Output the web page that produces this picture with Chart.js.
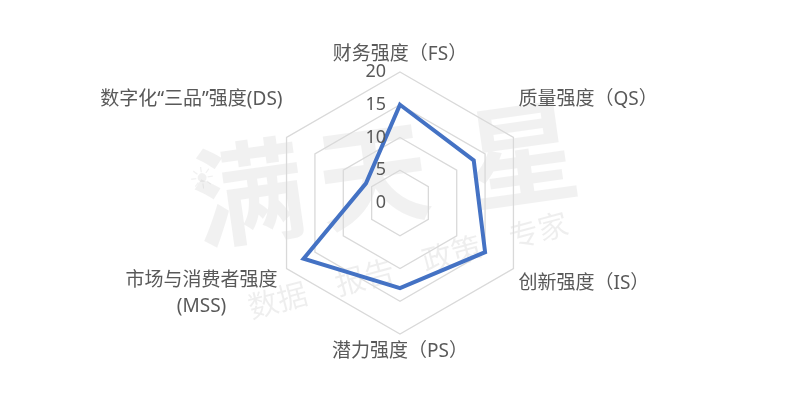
<!DOCTYPE html>
<html>
<head>
<meta charset="utf-8">
<script src="https://cdn.jsdelivr.net/npm/chart.js@4.4.1/dist/chart.umd.min.js"></script>
<style>
html,body{margin:0;padding:0;background:#fff;}
#wrap{width:800px;height:408px;}
</style>
</head>
<body>
<div id="wrap"><canvas id="radar" width="800" height="408"></canvas></div>
<script>
'use strict';

// ── values ──
var axisLabels = [['财务强度（FS）'], ['质量强度（QS）'], ['创新强度（IS）'], ['潜力强度（PS）'], ['市场与消费者强度', '(MSS)'], ['数字化“三品”强度(DS)']];
var strengthValues = [15, 13, 15, 13, 17, 6];
var tickValues = [0, 5, 10, 15, 20];

// latin glyphs (quotes, letters) from Noto Sans, CJK falls through
var FONT = "'Noto Sans','Noto Sans CJK SC',sans-serif";
var CJK = "'Noto Sans CJK SC',sans-serif";
var TXT = '#595959';

// where each axis label sits, relative to the outer vertex
var labelPlace = [
  {dx: 0, dy: -17, align: 'center'},
  {dx: 5, dy: -38, align: 'left'},
  {dx: 5, dy: 15, align: 'left'},
  {dx: 0, dy: 18, align: 'center'},
  {dx: -85, dy: 12, align: 'center'},
  {dx: -4, dy: -38, align: 'right'}
];

// ── watermark + tick / axis labels (Excel style placement) ──
var radarText = {
  id: 'radarText',
  beforeDraw: function(chart){
    var ctx = chart.ctx;
    ctx.save();
    ctx.fillStyle = 'rgba(0,0,0,0.055)';
    ctx.textAlign = 'center'; ctx.textBaseline = 'middle';
    ctx.translate(395, 172); ctx.rotate(-8 * Math.PI / 180);
    ctx.font = 'bold 112px ' + CJK;
    ctx.fillText('满', -148, 0);
    ctx.fillText('天', -22, 0);
    ctx.fillText('星', 128, 0);
    ctx.font = '30px DejaVu Sans';
    ctx.fillText('☀', -192, -18);
    ctx.restore();
    ctx.save();
    ctx.fillStyle = 'rgba(0,0,0,0.065)';
    ctx.textAlign = 'center'; ctx.textBaseline = 'middle';
    ctx.translate(408, 265); ctx.rotate(-15 * Math.PI / 180);
    ctx.font = '30px ' + CJK;
    ctx.fillText('数据　报告　政策　专家', 0, 0);
    ctx.restore();
  },
  afterDraw: function(chart){
    var s = chart.scales.r, ctx = chart.ctx;
    ctx.save();
    ctx.font = '18px ' + FONT;
    ctx.fillStyle = TXT;
    ctx.textBaseline = 'middle';
    ctx.textAlign = 'right';
    tickValues.forEach(function(v){
      var d = s.getDistanceFromCenterForValue(v);
      ctx.fillText(String(v), s.xCenter - 14, s.yCenter - d);
    });
    ctx.font = '19px ' + FONT;
    var R = s.getDistanceFromCenterForValue(tickValues[tickValues.length - 1]);
    axisLabels.forEach(function(lines, i){
      var p = s.getPointPosition(i, R), pl = labelPlace[i];
      ctx.textAlign = pl.align;
      lines.forEach(function(t, k){ ctx.fillText(t, p.x + pl.dx, p.y + pl.dy + k * 26); });
    });
    ctx.restore();
  }
};

new Chart(document.getElementById('radar'), {
  type: 'radar',
  data: {
    labels: axisLabels,
    datasets: [{
      data: strengthValues,
      borderColor: '#4472C4', borderWidth: 4,
      backgroundColor: 'transparent', fill: false,
      pointRadius: 0, pointHoverRadius: 0,
      borderJoinStyle: 'miter', tension: 0
    }]
  },
  options: {
    responsive: false, animation: false, devicePixelRatio: 1,
    layout: { padding: { top: 72, bottom: 74, left: 0, right: 0 } },
    plugins: { legend: { display: false }, tooltip: { enabled: false } },
    scales: {
      r: {
        min: 0, max: 20,
        afterBuildTicks: function(sc){ sc.ticks = tickValues.map(function(v){ return {value: v}; }); },
        ticks: { display: false },
        pointLabels: { display: false },
        angleLines: { display: false },
        grid: { color: '#d9d9d9', lineWidth: 1.3 }
      }
    }
  },
  plugins: [radarText]
});
</script>
</body>
</html>
